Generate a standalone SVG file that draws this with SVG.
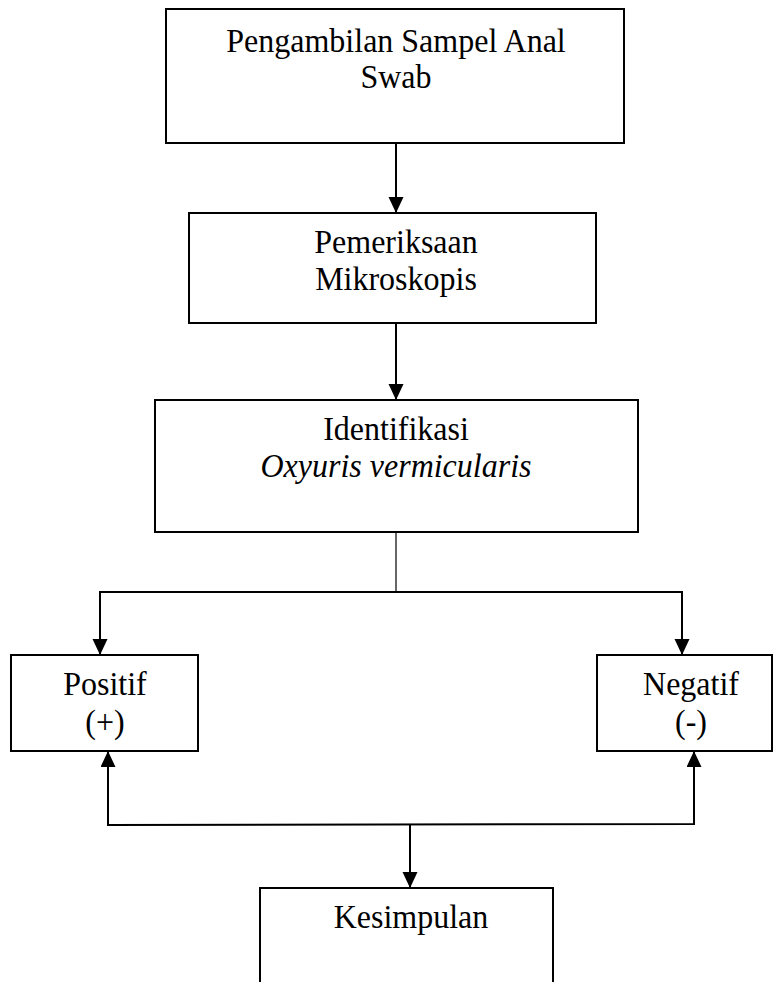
<svg xmlns="http://www.w3.org/2000/svg" width="774" height="982" viewBox="0 0 774 982">
<style>
.box{fill:#fff;stroke:#000;stroke-width:2}
.ln{fill:none;stroke:#000;stroke-width:2}
.thin{fill:none;stroke:#000;stroke-width:1.2}
text{font-family:"Liberation Serif","Times New Roman",serif;font-size:32px;fill:#000;text-anchor:middle}
.it{font-style:italic}
</style>
<defs>
<marker id="ah" markerUnits="userSpaceOnUse" markerWidth="16" markerHeight="16" refX="16" refY="7.5" orient="auto">
<path d="M0,0 L16,7.5 L0,15 Z" fill="#000"/>
</marker>
</defs>
<g id="connectors">
<line class="ln" x1="396" y1="143" x2="396" y2="213" marker-end="url(#ah)"/>
<line class="ln" x1="396" y1="323" x2="396" y2="400" marker-end="url(#ah)"/>
<line class="thin" x1="396" y1="532" x2="396" y2="592"/>
<polyline class="ln" points="100,655 100,592 682,592 682,655"/>
<line class="ln" x1="100" y1="630" x2="100" y2="655" marker-end="url(#ah)"/>
<line class="ln" x1="682" y1="630" x2="682" y2="655" marker-end="url(#ah)"/>
<polyline class="ln" points="108,751 108,825 694,824 694,751"/>
<line class="ln" x1="108" y1="780" x2="108" y2="751" marker-end="url(#ah)"/>
<line class="ln" x1="694" y1="780" x2="694" y2="751" marker-end="url(#ah)"/>
<line class="ln" x1="410" y1="825" x2="410" y2="888" marker-end="url(#ah)"/>
</g>
<g id="n1">
<rect class="box" x="166" y="9" width="458" height="134"/>
<text transform="translate(396,52) scale(1,1.08)">Pengambilan Sampel Anal</text>
<text transform="translate(396,88) scale(1,1.08)">Swab</text>
</g>
<g id="n2">
<rect class="box" x="189" y="213" width="407" height="110"/>
<text transform="translate(396,253) scale(1,1.08)">Pemeriksaan</text>
<text transform="translate(396,290) scale(1,1.08)">Mikroskopis</text>
</g>
<g id="n3">
<rect class="box" x="155" y="400" width="483" height="132"/>
<text transform="translate(396,440) scale(1,1.08)">Identifikasi</text>
<text class="it" transform="translate(396,477) scale(1,1.08)">Oxyuris vermicularis</text>
</g>
<g id="n4">
<rect class="box" x="11" y="655" width="187" height="96"/>
<text transform="translate(105,695) scale(1,1.08)">Positif</text>
<text transform="translate(105,733) scale(1,1.08)">(+)</text>
</g>
<g id="n5">
<rect class="box" x="597" y="655" width="175" height="96"/>
<text transform="translate(691,695) scale(1,1.08)">Negatif</text>
<text transform="translate(691,733) scale(1,1.08)">(-)</text>
</g>
<g id="n6">
<path class="ln" d="M260,984 V888 H553 V984"/>
<text transform="translate(411,928) scale(1,1.08)">Kesimpulan</text>
</g>
</svg>
